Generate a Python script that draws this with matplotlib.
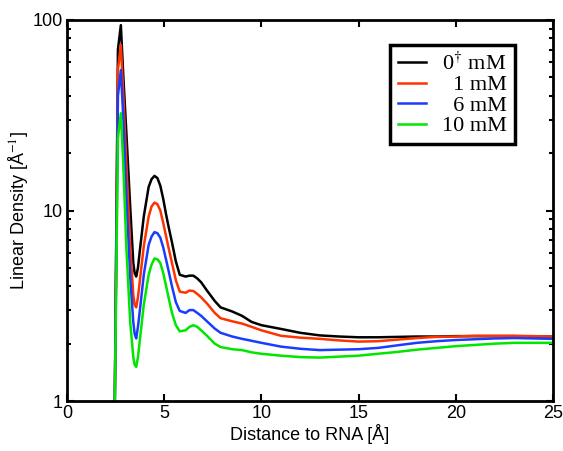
import matplotlib
matplotlib.use("Agg")
import matplotlib.pyplot as plt
from matplotlib.ticker import FixedLocator, FixedFormatter

# distance to RNA [A] (shared grid)
dist = [2.45, 2.62, 2.77, 2.9, 3.05, 3.25, 3.41, 3.48, 3.56, 3.65, 3.75, 3.95,
        4.2, 4.35, 4.5, 4.65, 4.8, 4.95, 5.1, 5.25, 5.4, 5.6, 5.8,
        6.1, 6.3, 6.5, 6.7, 6.9, 7.2, 7.6, 7.9, 8.5, 9.0, 9.5, 10.0,
        11.0, 12.0, 13.0, 14.0, 15.0, 16.0, 17.0, 18.0, 19.0, 20.0,
        21.0, 22.0, 23.0, 24.0, 25.0]

dens_0 = [0.8, 70, 94, 50, 26, 10.5, 5.3, 4.7, 4.5, 5.0, 6.2, 9.3,
          13.3, 14.6, 15.2, 14.8, 13.5, 11.5, 9.5, 8.0, 6.8, 5.4, 4.6,
          4.5, 4.55, 4.55, 4.4, 4.2, 3.8, 3.35, 3.1, 2.95, 2.8, 2.6, 2.5,
          2.39, 2.28, 2.21, 2.18, 2.16, 2.16, 2.17, 2.18, 2.18, 2.19,
          2.19, 2.19, 2.19, 2.18, 2.18]
dens_1 = [0.8, 55, 74, 40, 18, 6.5, 3.6, 3.2, 3.1, 3.5, 4.3, 6.5,
          9.3, 10.5, 11.0, 10.8, 10.0, 8.6, 7.3, 6.2, 5.3, 4.3, 3.75,
          3.7, 3.8, 3.78, 3.65, 3.5, 3.25, 2.9, 2.72, 2.62, 2.55, 2.45, 2.35,
          2.2, 2.15, 2.12, 2.08, 2.05, 2.06, 2.1, 2.14, 2.17, 2.18,
          2.2, 2.2, 2.2, 2.19, 2.18]
dens_6 = [0.8, 40, 54.6, 30, 12, 4.5, 2.6, 2.25, 2.13, 2.45, 3.0, 4.6,
          6.6, 7.3, 7.7, 7.6, 7.2, 6.4, 5.5, 4.7, 4.0, 3.3, 2.97,
          2.9, 3.0, 3.0, 2.9, 2.8, 2.62, 2.4, 2.28, 2.18, 2.12, 2.07, 2.02,
          1.93, 1.88, 1.85, 1.86, 1.87, 1.9, 1.96, 2.02, 2.06, 2.09,
          2.11, 2.13, 2.14, 2.13, 2.12]
dens_10 = [0.8, 24, 32.4, 17, 6.5, 2.6, 1.7, 1.55, 1.51, 1.7, 2.1, 3.2,
           4.6, 5.2, 5.6, 5.55, 5.3, 4.7, 4.0, 3.4, 2.9, 2.5, 2.32,
           2.35, 2.45, 2.5, 2.45, 2.35, 2.2, 2.0, 1.92, 1.87, 1.85, 1.8, 1.77,
           1.73, 1.7, 1.69, 1.71, 1.73, 1.77, 1.81, 1.86, 1.9, 1.94,
           1.97, 2.0, 2.02, 2.02, 2.02]

labels = [r"0$^{\dagger}$ mM", "\u20071 mM", "\u20076 mM", "10 mM"]
colors = ["black", "#ff3300", "#1a3cff", "#00e600"]

plt.rcParams["font.family"] = ["Liberation Sans", "DejaVu Sans"]
plt.rcParams["mathtext.fontset"] = "stix"

fig = plt.figure(figsize=(5.63, 4.51), dpi=100)
ax = fig.add_axes([67 / 563, 1 - 401 / 451, 486 / 563, 381 / 451])

for dens, lab, c in zip([dens_0, dens_1, dens_6, dens_10], labels, colors):
    ax.plot(dist, dens, color=c, lw=1.8, label=lab)

ax.set_yscale("log")
ax.set_xlim(0, 25)
ax.set_ylim(1, 100)
ax.set_xticks([0, 5, 10, 15, 20, 25])
ax.yaxis.set_major_locator(FixedLocator([1, 10, 100]))
ax.yaxis.set_major_formatter(FixedFormatter(["1", "10", "100"]))

ax.tick_params(which="both", direction="in", top=True, right=True, labelsize=13, width=1.5)
ax.tick_params(which="major", length=5, pad=3)
ax.tick_params(which="minor", length=3)
for s in ax.spines.values():
    s.set_linewidth(2)

ax.set_xlabel("Distance to RNA [Å]", fontsize=13, labelpad=1)
ax.set_ylabel("Linear Density [Å$^{-1}$]", fontsize=13, labelpad=2)

leg = ax.legend(loc="upper right", bbox_to_anchor=(0.944, 0.964), fancybox=False,
                edgecolor="black", framealpha=1, handlelength=1.3,
                borderpad=0.35, labelspacing=0.0, handletextpad=0.7,
                prop={"family": ["Liberation Serif", "DejaVu Serif"], "size": 16})
leg.get_frame().set_linewidth(2.5)

fig.savefig("out.png", dpi=100)
